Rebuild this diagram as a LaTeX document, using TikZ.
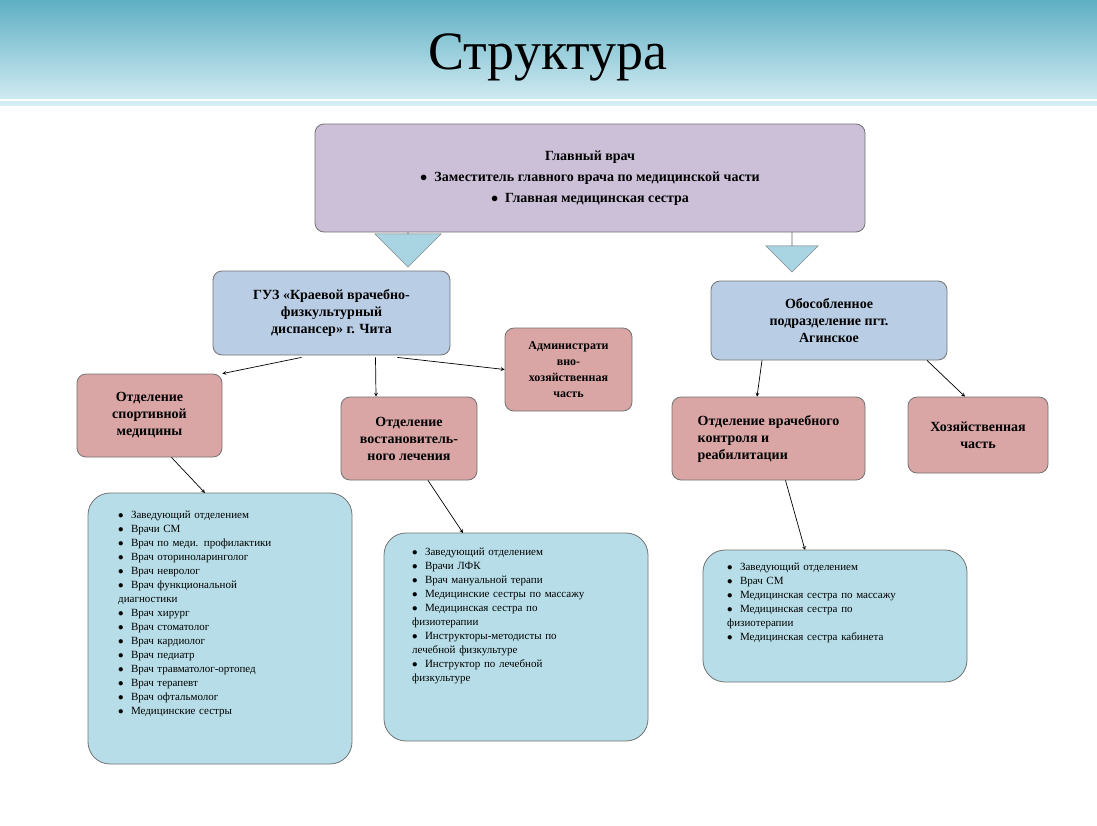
\documentclass[tikz,border=0pt]{standalone}
\usepackage{fontspec}
\setmainfont{Liberation Serif}
\usetikzlibrary{shapes.arrows}
\definecolor{lav}{HTML}{CBC0D8}
\definecolor{blu}{HTML}{B9CDE5}
\definecolor{pnk}{HTML}{D9A5A5}
\definecolor{lst}{HTML}{B7DEE8}
\definecolor{arr}{HTML}{A9D4E2}
\definecolor{hdA}{HTML}{5FAFC4}
\definecolor{hdB}{HTML}{D6EEF4}
\begin{document}
\begin{tikzpicture}[x=1pt,y=-1pt,
 box/.style={draw=black!55,line width=0.8pt,rounded corners=9pt,align=center,font=\bfseries\fontsize{14}{17}\selectfont},
 lbox/.style={draw=black!55,line width=0.8pt,rounded corners=22pt,fill=lst},
 ltxt/.style={align=left,anchor=north west,font=\fontsize{11}{14}\selectfont,text width=200pt,inner sep=0pt},
 con/.style={-stealth,line width=0.7pt}]
\useasboundingbox (0,0) rectangle (1097,825);
\fill[white] (0,0) rectangle (1097,825);
\shade[top color=hdA,bottom color=hdB] (0,0) rectangle (1097,105);
\draw[white,line width=2pt] (0,100)--(1097,100);
\node[font=\fontsize{54}{60}\selectfont] (title) at (548,57) {Структура};
% big arrows
\node[single arrow,shape border rotate=270,fill=arr,draw=black!55,minimum width=30pt,single arrow head extend=33pt,single arrow head indent=0pt,minimum height=38pt,inner sep=0pt] (a1) at (408,248) {};
\node[single arrow,shape border rotate=270,fill=arr,draw=black!55,minimum width=40pt,single arrow head extend=26pt,single arrow head indent=0pt,minimum height=44pt,inner sep=0pt] (a2) at (792,250) {};
% boxes
\node[box,fill=lav,minimum width=550pt,minimum height=108pt] (top) at (590,178) {Главный врач\\[4pt] $\bullet$\ \ Заместитель главного врача по медицинской части\\[4pt] $\bullet$\ \ Главная медицинская сестра};
\node[box,fill=blu,minimum width=237pt,minimum height=84pt] (guz) at (331.5,313) {ГУЗ «Краевой врачебно-\\физкультурный\\диспансер» г. Чита};
\node[box,fill=blu,minimum width=236pt,minimum height=79pt] (obo) at (829,320.5) {Обособленное\\подразделение пгт.\\Агинское};
\node[box,fill=pnk,minimum width=127pt,minimum height=83pt,font=\bfseries\fontsize{12}{16}\selectfont] (adm) at (568.5,369.5) {Администрати\\вно-\\хозяйственная\\часть};
\node[box,fill=pnk,minimum width=145pt,minimum height=83pt] (sp) at (149.5,415.5) {Отделение\\спортивной\\медицины};
\node[box,fill=pnk,minimum width=136pt,minimum height=83pt] (vo) at (409,438.5) {Отделение\\востановитель-\\ного лечения};
\node[box,fill=pnk,minimum width=193pt,minimum height=83pt,align=left] (vr) at (768.5,438.5) {Отделение врачебного\\контроля и\\реабилитации};
\node[box,fill=pnk,minimum width=140pt,minimum height=76pt] (hz) at (978,435) {Хозяйственная\\часть};
% list boxes
\draw[lbox] (88,493) rectangle (352,764);
\coordinate (l1) at (88,493); \coordinate (l1t) at (205,493);
\node[ltxt] (t1) at (118,511) {$\bullet$\ \ Заведующий отделением\\ $\bullet$\ \ Врачи СМ\\ $\bullet$\ \ Врач по меди. профилактики\\ $\bullet$\ \ Врач оториноларинголог\\ $\bullet$\ \ Врач невролог\\ $\bullet$\ \ Врач функциональной\\ диагностики\\ $\bullet$\ \ Врач хирург\\ $\bullet$\ \ Врач стоматолог\\ $\bullet$\ \ Врач кардиолог\\ $\bullet$\ \ Врач педиатр\\ $\bullet$\ \ Врач травматолог-ортопед\\ $\bullet$\ \ Врач терапевт\\ $\bullet$\ \ Врач офтальмолог\\ $\bullet$\ \ Медицинские сестры};
\draw[lbox] (384,533) rectangle (648,741);
\coordinate (l2t) at (463,533);
\node[ltxt,text width=210pt] (t2) at (412,548) {$\bullet$\ \ Заведующий отделением\\ $\bullet$\ \ Врачи ЛФК\\ $\bullet$\ \ Врач мануальной терапи\\ $\bullet$\ \ Медицинские сестры по массажу\\ $\bullet$\ \ Медицинская сестра по\\ физиотерапии\\ $\bullet$\ \ Инструкторы-методисты по\\ лечебной физкультуре\\ $\bullet$\ \ Инструктор по лечебной\\ физкультуре};
\draw[lbox] (703,550) rectangle (967,682);
\coordinate (l3t) at (805,550);
\node[ltxt,text width=210pt] (t3) at (727,563) {$\bullet$\ \ Заведующий отделением\\ $\bullet$\ \ Врач СМ\\ $\bullet$\ \ Медицинская сестра по массажу\\ $\bullet$\ \ Медицинская сестра по\\ физиотерапии\\ $\bullet$\ \ Медицинская сестра кабинета};
% connectors
\draw[con] (guz.south)++(-30,2) coordinate (g1) -- (sp.north east);
\draw[con] (guz.south)++(44,2) -- (vo.north -| 376,0) ;
\draw[con] (guz.south)++(66,2) -- (adm.west);
\draw[con] (obo.south)++(-67,0) -- (vr.north -| 757,0);
\draw[con] (obo.south)++(98,0) -- (hz.north -| 965,0);
\draw[con] (sp.south)++(22,0) -- (l1t);
\draw[con] (vo.south)++(19,0) -- (l2t);
\draw[con] (vr.south)++(17,0) -- (l3t);
\end{tikzpicture}
\end{document}
